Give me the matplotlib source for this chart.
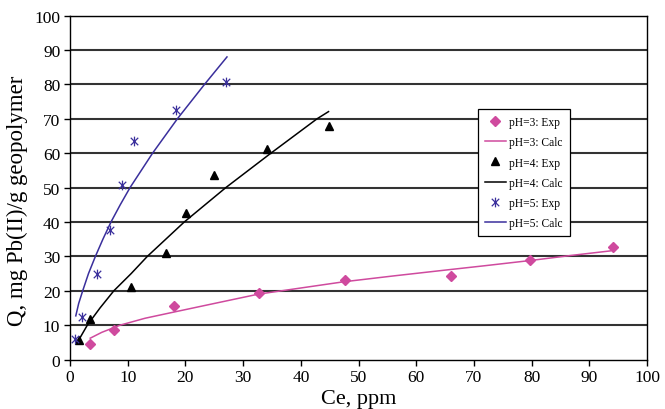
import numpy as np
import matplotlib
matplotlib.use("Agg")
import matplotlib.pyplot as plt
from matplotlib.path import Path

plt.rcParams['font.family'] = ['Liberation Serif', 'DejaVu Serif']

# Экспериментальные точки изотерм сорбции Pb(II)
ce_ph3 = [3.5, 7.7, 18.0, 32.8, 47.7, 66.0, 79.7, 94.1]
q_ph3 = [4.5, 8.6, 15.5, 19.3, 23.0, 24.2, 28.8, 32.7]

ce_ph4 = [1.5, 3.4, 10.6, 16.6, 20.1, 24.9, 34.2, 44.8]
q_ph4 = [5.8, 11.8, 21.0, 31.0, 42.6, 53.6, 61.2, 68.0]

ce_ph5 = [0.9, 2.1, 4.6, 7.0, 9.0, 11.1, 18.4, 27.0]
q_ph5 = [6.1, 12.5, 25.0, 37.6, 50.7, 63.5, 72.6, 80.8]

# Расчётные кривые (сняты по точкам)
ce_calc3 = [3.5, 5.5, 8.7, 13.0, 18.0, 25.0, 32.6, 40.0, 47.4, 56.0, 65.0, 72.0, 79.8, 87.0, 93.7]
q_calc3 = [6.2, 7.9, 10.0, 12.0, 13.8, 16.3, 19.0, 20.8, 22.6, 24.3, 26.0, 27.3, 28.8, 30.3, 31.6]

ce_calc4 = [1.45, 3.0, 5.2, 7.6, 10.6, 13.4, 19.8, 27.0, 34.8, 42.8, 44.8]
q_calc4 = [5.5, 10.0, 15.0, 20.0, 25.0, 30.0, 40.0, 50.0, 60.0, 70.0, 72.1]

ce_calc5 = [1.0, 1.5, 2.2, 3.2, 4.4, 5.7, 7.1, 8.7, 10.4, 14.3, 18.6, 23.3, 27.2]
q_calc5 = [12.7, 16.3, 20.0, 25.0, 30.0, 35.0, 40.0, 45.0, 50.0, 60.0, 70.0, 80.0, 88.0]

pink = '#cf4a9e'
blue = '#3a2f9c'

# маркер-звёздочка: X + вертикальная черта
star = Path([(-1, -1), (1, 1), (-1, 1), (1, -1), (0, -1.3), (0, 1.3)],
            [Path.MOVETO, Path.LINETO, Path.MOVETO, Path.LINETO, Path.MOVETO, Path.LINETO])

fig = plt.figure(figsize=(6.65, 4.10), dpi=100)
ax = fig.add_axes([0.1053, 0.1207, 0.8677, 0.8386])

for yv in range(10, 101, 10):
    ax.axhline(yv, color='#333333', lw=1.5, zorder=1)

ax.plot(ce_ph3, q_ph3, 'D', color=pink, ms=4.8, mec=pink, ls='none', label='pH=3: Exp', zorder=3)
ax.plot(ce_calc3, q_calc3, '-', color=pink, lw=1.1, label='pH=3: Calc', zorder=2)
ax.plot(ce_ph4, q_ph4, '^', color='black', ms=6, ls='none', label='pH=4: Exp', zorder=3)
ax.plot(ce_calc4, q_calc4, '-', color='black', lw=1.1, label='pH=4: Calc', zorder=2)
ax.plot(ce_ph5, q_ph5, marker=star, color=blue, mfc='none', mec=blue, mew=0.9, ms=7,
        ls='none', label='pH=5: Exp', zorder=3)
ax.plot(ce_calc5, q_calc5, '-', color=blue, lw=1.1, label='pH=5: Calc', zorder=2)

ax.set_xlim(0, 100)
ax.set_ylim(0, 100)
ax.set_xticks(np.arange(0, 101, 10))
ax.set_yticks(np.arange(0, 101, 10))
ax.tick_params(direction='out', length=4, width=1, labelsize=12.5, pad=3)
for s in ax.spines.values():
    s.set_linewidth(1.0)
    s.set_color('black')

ax.set_xlabel('Ce, ppm', fontsize=16, labelpad=3)
ax.set_ylabel('Q, mg Pb(II)/g geopolymer', fontsize=16.5)
ax.yaxis.set_label_coords(-0.072, 0.465)

leg = ax.legend(loc='upper left', bbox_to_anchor=(0.707, 0.7286), borderaxespad=0,
                fontsize=8.3, frameon=True, fancybox=False, framealpha=1, edgecolor='black',
                handlelength=1.8, labelspacing=0.72, borderpad=0.6, handletextpad=0.3)
leg.get_frame().set_linewidth(0.9)
leg.set_zorder(5)

fig.savefig('out.png', dpi=100)
